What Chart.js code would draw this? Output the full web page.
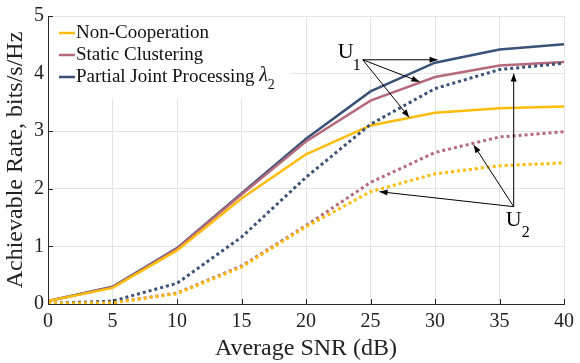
<!DOCTYPE html>
<html lang="en">
<head>
    <meta charset="UTF-8">
    <title>Achievable Rate vs Average SNR</title>
    <style>
        body, html {
            margin: 0;
            background: #fff;
        }
        #wrap {
            width: 580px;
            height: 363px;
        }
    </style>
</head>
<body>
    <div id="wrap"><canvas id="rateChart" width="580" height="363"></canvas></div>
    <script src="https://cdn.jsdelivr.net/npm/chart.js"></script>
    <script>
        // x values (dB)
        const snr = [0, 5, 10, 15, 20, 25, 30, 35, 40];

        // U1 (solid) curves
        const nonCoopU1 = [0.05, 0.28, 0.93, 1.83, 2.60, 3.10, 3.32, 3.40, 3.43];
        const staticU1  = [0.05, 0.29, 0.96, 1.90, 2.82, 3.53, 3.94, 4.14, 4.20];
        const pjpU1     = [0.05, 0.30, 0.97, 1.92, 2.87, 3.69, 4.19, 4.42, 4.51];

        // U2 (dotted) curves
        const nonCoopU2 = [0.01, 0.02, 0.18, 0.64, 1.34, 1.95, 2.26, 2.40, 2.45];
        const staticU2  = [0.01, 0.02, 0.19, 0.66, 1.36, 2.11, 2.63, 2.90, 2.99];
        const pjpU2     = [0.01, 0.05, 0.36, 1.16, 2.20, 3.12, 3.74, 4.07, 4.18];

        const seriesNames = ['Non-Cooperation', 'Static Clustering', 'Partial Joint Processing'];
        const xTicks = [0, 5, 10, 15, 20, 25, 30, 35, 40];
        const yTicks = [0, 1, 2, 3, 4, 5];

        // annotation arrows, in data units
        const u1From = [24.4, 4.24];
        const u1To = [[30.2, 4.24], [28.8, 3.86], [28.0, 3.24]];
        const u2From = [36.1, 1.69];
        const u2To = [[36.1, 4.0], [33.0, 2.76], [25.7, 1.95]];

        const yellow = '#FFBC0A';
        const mauve = '#B5697B';
        const navy = '#3A5277';
        const serif = '"Liberation Serif", "DejaVu Serif", serif';

        const pts = ys => ys.map((y, i) => ({ x: snr[i], y: y }));

        function arrow(ctx, x1, y1, x2, y2) {
            ctx.beginPath();
            ctx.moveTo(x1, y1);
            ctx.lineTo(x2, y2);
            ctx.stroke();
            const a = Math.atan2(y2 - y1, x2 - x1);
            const len = 8, w = 3;
            ctx.beginPath();
            ctx.moveTo(x2, y2);
            ctx.lineTo(x2 - len * Math.cos(a) + w * Math.sin(a), y2 - len * Math.sin(a) - w * Math.cos(a));
            ctx.lineTo(x2 - len * Math.cos(a) - w * Math.sin(a), y2 - len * Math.sin(a) + w * Math.cos(a));
            ctx.closePath();
            ctx.fill();
        }

        const extras = {
            id: 'extras',
            afterDatasetsDraw(chart) {
                const ctx = chart.ctx;
                const xs = chart.scales.x, ys = chart.scales.y;
                const area = chart.chartArea;
                ctx.save();

                // inward ticks like matlab
                ctx.strokeStyle = '#262626';
                ctx.lineWidth = 1;
                xTicks.forEach(t => {
                    const px = Math.round(xs.getPixelForValue(t)) + 0.5;
                    ctx.beginPath();
                    ctx.moveTo(px, area.bottom);
                    ctx.lineTo(px, area.bottom - 5);
                    ctx.stroke();
                });
                yTicks.forEach(t => {
                    const py = Math.round(ys.getPixelForValue(t)) + 0.5;
                    ctx.beginPath();
                    ctx.moveTo(area.left, py);
                    ctx.lineTo(area.left + 5, py);
                    ctx.stroke();
                });

                // legend
                ctx.fillStyle = '#fff';
                ctx.fillRect(area.left + 1, area.top + 1, 242, 82);
                const cols = [yellow, mauve, navy];
                const rowY = [33, 55, 77];
                ctx.font = '19px ' + serif;
                ctx.textBaseline = 'middle';
                seriesNames.forEach((name, i) => {
                    ctx.strokeStyle = cols[i];
                    ctx.lineWidth = 2.5;
                    ctx.beginPath();
                    ctx.moveTo(59, rowY[i]);
                    ctx.lineTo(75, rowY[i]);
                    ctx.stroke();
                    ctx.fillStyle = '#111';
                    ctx.fillText(name, 76, rowY[i]);
                });
                const w = ctx.measureText(seriesNames[2] + ' ').width;
                ctx.font = 'italic 20px ' + serif;
                ctx.fillText('\u03BB', 76 + w, rowY[2] - 1);
                const lw = ctx.measureText('\u03BB').width;
                ctx.font = '14px ' + serif;
                ctx.fillText('2', 76 + w + lw, rowY[2] + 8);

                // U1 / U2 arrows
                ctx.strokeStyle = '#000';
                ctx.fillStyle = '#000';
                ctx.lineWidth = 1;
                const P = v => [xs.getPixelForValue(v[0]), ys.getPixelForValue(v[1])];
                const o1 = P(u1From);
                u1To.forEach(t => { const p = P(t); arrow(ctx, o1[0], o1[1], p[0], p[1]); });
                const o2 = P(u2From);
                u2To.forEach(t => { const p = P(t); arrow(ctx, o2[0], o2[1], p[0], p[1]); });

                ctx.textBaseline = 'alphabetic';
                ctx.font = '22px ' + serif;
                ctx.textAlign = 'right';
                ctx.fillText('U', o1[0] - 9, o1[1] - 2);
                ctx.textAlign = 'left';
                ctx.font = '16px ' + serif;
                ctx.fillText('1', o1[0] - 10, o1[1] + 10);

                ctx.font = '22px ' + serif;
                ctx.textAlign = 'left';
                ctx.fillText('U', o2[0] - 8, o2[1] + 19);
                ctx.font = '16px ' + serif;
                ctx.fillText('2', o2[0] + 8, o2[1] + 30);
                ctx.restore();
            }
        };

        const solid = (data, color) => ({
            data: pts(data), borderColor: color, borderWidth: 2.5,
            pointRadius: 0, fill: false, tension: 0
        });
        const dotted = (data, color) => ({
            data: pts(data), borderColor: color, borderWidth: 3, borderDash: [3, 3],
            borderCapStyle: 'butt', pointRadius: 0, fill: false, tension: 0
        });

        new Chart(document.getElementById('rateChart'), {
            type: 'line',
            data: {
                datasets: [
                    dotted(nonCoopU2, yellow),
                    dotted(staticU2, mauve),
                    dotted(pjpU2, navy),
                    solid(nonCoopU1, yellow),
                    solid(staticU1, mauve),
                    solid(pjpU1, navy)
                ]
            },
            options: {
                responsive: false,
                animation: false,
                layout: { padding: { top: 14, right: 11, left: 0, bottom: 0 } },
                plugins: { legend: { display: false }, tooltip: { enabled: false } },
                scales: {
                    x: {
                        type: 'linear', min: 0, max: 40,
                        afterBuildTicks: s => { s.ticks = xTicks.map(v => ({ value: v })); },
                        afterFit: s => { s.height = 59; },
                        grid: { color: '#e3e3e3', tickLength: 0, drawTicks: false },
                        border: { color: '#262626', width: 1 },
                        ticks: { color: '#222', font: { family: serif, size: 20 }, padding: 6, maxRotation: 0 },
                        title: { display: true, text: 'Average SNR (dB)', color: '#222', font: { family: serif, size: 24 }, padding: { top: 0, bottom: 0 } }
                    },
                    y: {
                        min: 0, max: 5,
                        afterBuildTicks: s => { s.ticks = yTicks.map(v => ({ value: v })); },
                        afterFit: s => { s.width = 48; },
                        grid: { color: '#e3e3e3', tickLength: 0, drawTicks: false },
                        border: { color: '#262626', width: 1 },
                        ticks: { color: '#222', font: { family: serif, size: 20 }, padding: 4 },
                        title: { display: true, text: 'Achievable Rate, bits/s/Hz', color: '#222', font: { family: serif, size: 24 }, padding: { top: 1, bottom: 0 } }
                    }
                }
            },
            plugins: [extras]
        });
    </script>
</body>
</html>
